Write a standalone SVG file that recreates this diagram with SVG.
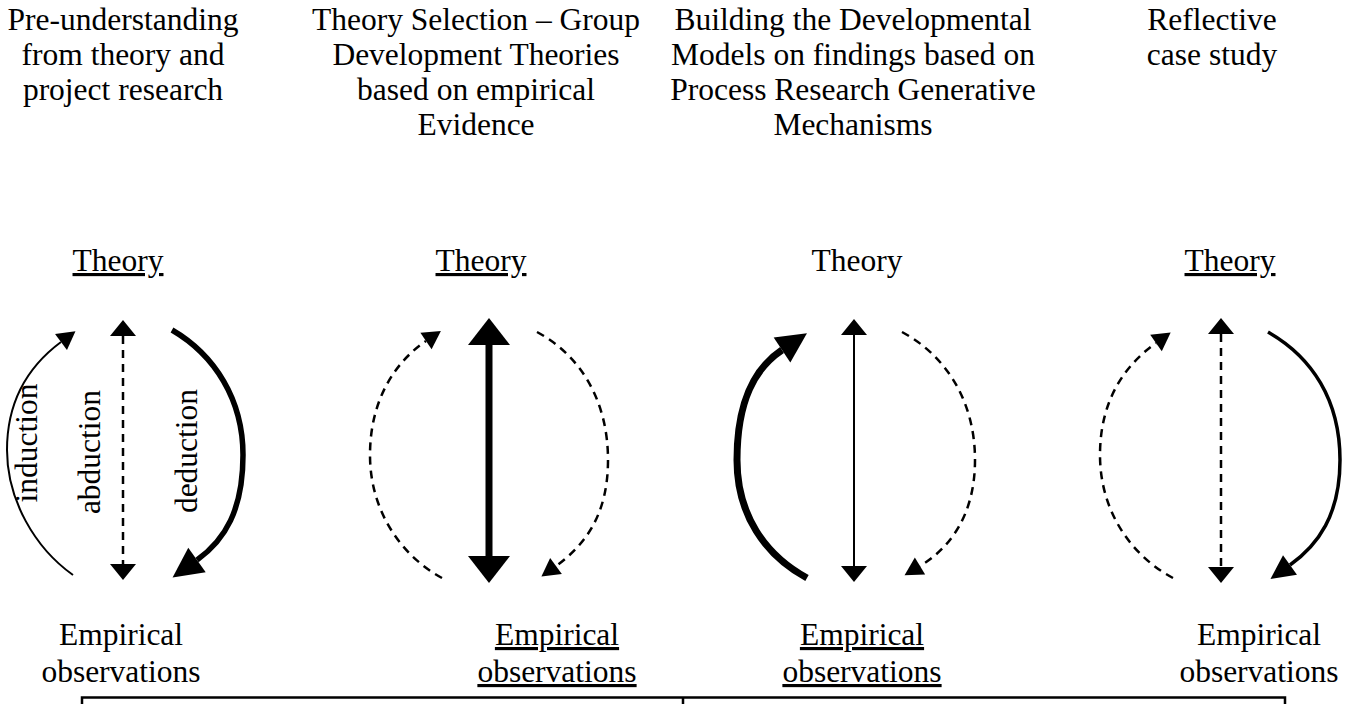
<svg xmlns="http://www.w3.org/2000/svg" width="1349" height="704" viewBox="0 0 1349 704">
<style>
text{font-family:"Liberation Serif","Times New Roman",serif;font-size:31.5px;fill:#000;text-anchor:middle}
.u{text-decoration:underline}
.ln{fill:none;stroke:#000}
.d{stroke-dasharray:8 6}
</style>
<defs>
<marker id="mS" markerUnits="userSpaceOnUse" markerWidth="16" markerHeight="26" refX="0" refY="13" orient="auto-start-reverse" overflow="visible"><path d="M0,0 L16,13 L0,26 Z" fill="#000"/></marker>
<marker id="mC" markerUnits="userSpaceOnUse" markerWidth="18" markerHeight="20" refX="0" refY="10" orient="auto" overflow="visible"><path d="M0,0 L18,10 L0,20 Z" fill="#000"/></marker>
<marker id="mM" markerUnits="userSpaceOnUse" markerWidth="24" markerHeight="24" refX="0" refY="12" orient="auto" overflow="visible"><path d="M0,0 L24,12 L0,24 Z" fill="#000"/></marker>
<marker id="mL" markerUnits="userSpaceOnUse" markerWidth="30" markerHeight="30" refX="0" refY="15" orient="auto" overflow="visible"><path d="M0,0 L30,15 L0,30 Z" fill="#000"/></marker>
<marker id="mX" markerUnits="userSpaceOnUse" markerWidth="27" markerHeight="42" refX="0" refY="21" orient="auto-start-reverse" overflow="visible"><path d="M0,0 L27,21 L0,42 Z" fill="#000"/></marker>
</defs>
<rect width="1349" height="704" fill="#fff"/>

<g id="titles">
<g id="title1"><text x="123" y="29.5">Pre-understanding</text><text x="123" y="65">from theory and</text><text x="123" y="100">project research</text></g>
<g id="title2"><text x="476" y="29.5">Theory Selection – Group</text><text x="476" y="65">Development Theories</text><text x="476" y="100">based on empirical</text><text x="476" y="135">Evidence</text></g>
<g id="title3"><text x="853" y="29.5">Building the Developmental</text><text x="853" y="65">Models on findings based on</text><text x="853" y="100">Process Research Generative</text><text x="853" y="135">Mechanisms</text></g>
<g id="title4"><text x="1212" y="29.5">Reflective</text><text x="1212" y="65">case study</text></g>
</g>

<g id="theory-labels">
<g id="theory1"><text class="u" x="118" y="271">Theory</text></g>
<g id="theory2"><text class="u" x="481" y="271">Theory</text></g>
<g id="theory3"><text x="857" y="271">Theory</text></g>
<g id="theory4"><text class="u" x="1230" y="271">Theory</text></g>
</g>

<g id="empirical-labels">
<g id="emp1"><text x="121" y="645">Empirical</text><text x="121" y="682">observations</text></g>
<g id="emp2"><text class="u" x="557" y="645">Empirical</text><text class="u" x="557" y="682">observations</text></g>
<g id="emp3"><text class="u" x="862" y="645">Empirical</text><text class="u" x="862" y="682">observations</text></g>
<g id="emp4"><text x="1259" y="645">Empirical</text><text x="1259" y="682">observations</text></g>
</g>

<g id="arrow-labels">
<text transform="translate(37,443) rotate(-90)">induction</text>
<text transform="translate(100,452) rotate(-90)">abduction</text>
<text transform="translate(197,451) rotate(-90)">deduction</text>
</g>

<g id="connectors">
<!-- column 1 -->
<path class="ln" stroke-width="2" d="M73,575 C35,548 7,500 7,450 C7,400 30,365 61,342" marker-end="url(#mC)"/>
<path class="ln d" stroke-width="2.5" d="M123,336 L123,564" marker-start="url(#mS)" marker-end="url(#mS)"/>
<path class="ln" stroke-width="5.5" d="M172,330 C215,355 243,400 243,455 C243,510 225,540 197,560" marker-end="url(#mL)"/>
<!-- column 2 -->
<path class="ln d" stroke-width="2.5" d="M442,578 C400,555 370,510 370,455 C370,400 395,362 426,341" marker-end="url(#mC)"/>
<path class="ln" stroke-width="7" d="M489,345 L489,556" marker-start="url(#mX)" marker-end="url(#mX)"/>
<path class="ln d" stroke-width="2.5" d="M537,332 C580,355 608,400 608,460 C608,515 585,545 556,566" marker-end="url(#mC)"/>
<!-- column 3 -->
<path class="ln" stroke-width="7" d="M807,578 C765,555 737,515 737,460 C737,400 755,368 782,350" marker-end="url(#mL)"/>
<path class="ln" stroke-width="2" d="M854,335 L854,566" marker-start="url(#mS)" marker-end="url(#mS)"/>
<path class="ln d" stroke-width="2.5" d="M902,332 C945,355 975,400 975,460 C975,515 950,548 920,566" marker-end="url(#mC)"/>
<!-- column 4 -->
<path class="ln d" stroke-width="2.5" d="M1173,578 C1130,555 1100,510 1100,455 C1100,400 1125,365 1156,343" marker-end="url(#mC)"/>
<path class="ln d" stroke-width="2.5" d="M1221,334 L1221,567" marker-start="url(#mS)" marker-end="url(#mS)"/>
<path class="ln" stroke-width="3.5" d="M1268,332 C1312,357 1340,400 1340,460 C1340,515 1318,545 1290,565" marker-end="url(#mM)"/>
</g>

<g id="bottom-box" fill="none" stroke="#000" stroke-width="2.5">
<path d="M82,706 L82,697.5 L1285,697.5 L1285,706"/>
<path d="M683,697.5 L683,706"/>
</g>
</svg>
